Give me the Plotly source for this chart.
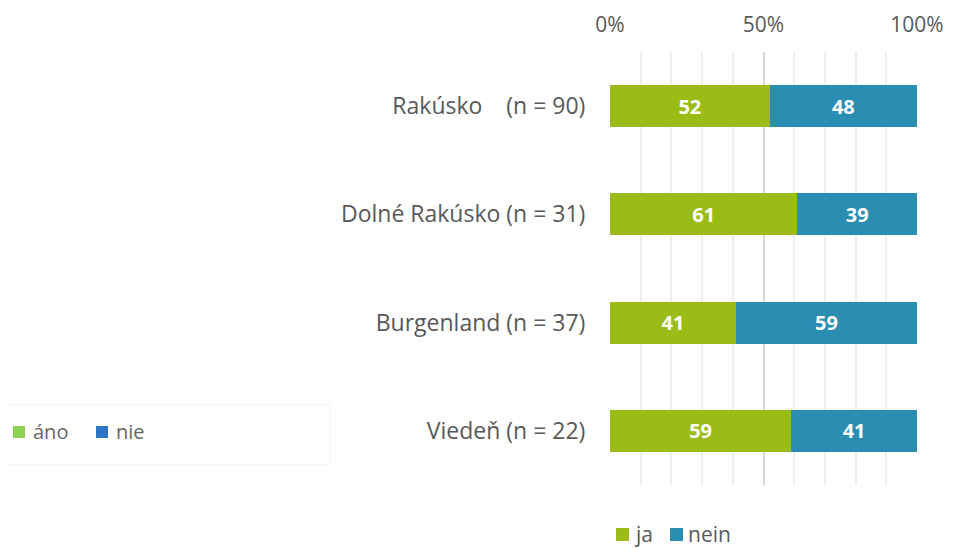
import plotly.graph_objects as go

categories = ["Rakúsko\u00a0\u00a0\u00a0\u00a0(n = 90)", "Dolné Rakúsko (n = 31)", "Burgenland (n = 37)", "Viedeň (n = 22)"]
ja_values = [52, 61, 41, 59]
nein_values = [48, 39, 59, 41]
series_names = ["ja", "nein"]
tick_vals = [0, 50, 100]
tick_text = ["0%", "50%", "100%"]
left_legend = ["áno", "nie"]

GREEN = "#9BBC16"
BLUE = "#2A8DB2"
GRAY = "#595959"

# page body has an 8px margin; figure placed at (8, 8)
OFF = 8
W, H = 954 - OFF, 549 - OFF
L, R, T, B = 610 - OFF, 954 - 917, 52 - OFF, 549 - 485
pw = W - L - R
ph = H - T - B

def px(x):
    return (x - OFF - L) / pw

def py(y):
    return (H - B - (y - OFF)) / ph

fig = go.Figure()
for name, vals, col in [(series_names[0], ja_values, GREEN), (series_names[1], nein_values, BLUE)]:
    fig.add_trace(go.Bar(
        y=categories, x=vals, name=name, orientation="h",
        marker=dict(color=col, line=dict(width=0)),
        text=vals, texttemplate="%{x}", textposition="inside",
        insidetextanchor="middle",
        textfont=dict(color="white", size=20, family="Noto Sans", weight="bold"),
        showlegend=False,
    ))

fig.update_layout(
    width=W, height=H,
    margin=dict(l=L, r=R, t=T, b=B, autoexpand=False),
    barmode="stack", bargap=0.61,
    plot_bgcolor="white", paper_bgcolor="white",
    font=dict(family="Open Sans", color=GRAY),
    xaxis=dict(
        side="top", range=[0, 100], tickvals=tick_vals, ticktext=tick_text,
        tickfont=dict(size=21, color=GRAY), showgrid=True, gridcolor="#d9d9d9", gridwidth=1.5,
        minor=dict(dtick=10, showgrid=True, gridcolor="#eeeeee", gridwidth=1.5),
        zeroline=False, showline=False, ticks="outside", ticklen=11, tickcolor="rgba(0,0,0,0)",
        fixedrange=True,
    ),
    yaxis=dict(
        autorange="reversed", tickfont=dict(size=23, color=GRAY), showgrid=False,
        ticks="outside", ticklen=19, tickcolor="rgba(0,0,0,0)", showline=False, zeroline=False,
    ),
)

shapes = []
annotations = []
# bottom legend (ja / nein)
for (x0, name, col) in [(616, series_names[0], GREEN), (670, series_names[1], BLUE)]:
    shapes.append(dict(type="rect", xref="paper", yref="paper",
                       x0=px(x0), x1=px(x0 + 13), y0=py(541), y1=py(528),
                       fillcolor=col, line=dict(width=0)))
    annotations.append(dict(xref="paper", yref="paper", x=px(x0 + 16), y=py(534),
                            text=name, showarrow=False, xanchor="left", yanchor="middle",
                            font=dict(size=21, color=GRAY, family="Open Sans")))

# left legend (áno / nie)
shapes.append(dict(type="rect", xref="paper", yref="paper",
                   x0=px(-5), x1=px(330), y0=py(465), y1=py(405),
                   fillcolor="white", line=dict(color="#f2f2f2", width=1), layer="below"))
for (x0, name, col) in [(13, left_legend[0], "#8ED14F"), (96, left_legend[1], "#2E75C3")]:
    shapes.append(dict(type="rect", xref="paper", yref="paper",
                       x0=px(x0), x1=px(x0 + 12), y0=py(438), y1=py(426),
                       fillcolor=col, line=dict(width=0)))
    annotations.append(dict(xref="paper", yref="paper", x=px(x0 + 18), y=py(431),
                            text=name, showarrow=False, xanchor="left", yanchor="middle",
                            font=dict(size=20, color="#666666", family="Open Sans")))

fig.update_layout(shapes=shapes, annotations=annotations)
fig.write_html("out.html")
